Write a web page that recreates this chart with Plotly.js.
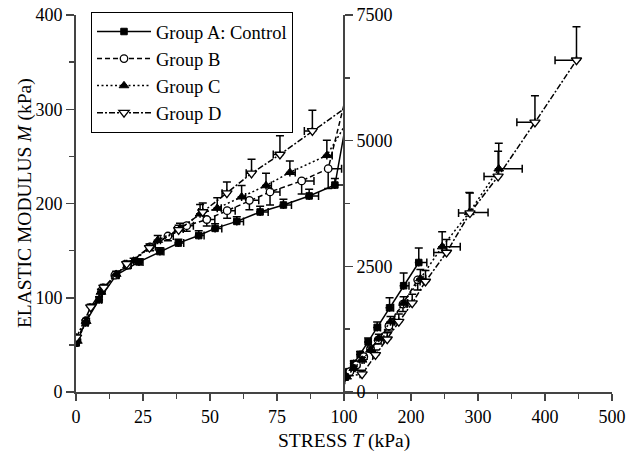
<!DOCTYPE html>
<html>
<head>
<meta charset="utf-8">
<script src="https://cdn.plot.ly/plotly-3.0.1.min.js"></script>
<style>html,body{margin:0;padding:0;background:#fff;}#chart{width:636px;height:455px;}</style>
</head>
<body>
<div id="chart"></div>
<script>
// ---- Data (stress T in kPa, elastic modulus M in kPa) ----
var groupNames = ["Group A: Control", "Group B", "Group C", "Group D"];

var aT    = [0.1,3.5,8.6,15,23.5,31.3,38.2,45.8,51.9,60,68.7,77.4,87,96.6, 102,107,114.6,124,136,149.5,168,189,211.6];
var aM    = [52,73.5,98,124,138,149,158,166,173.6,181,191,198.4,208,219.6, 305,405,565,747,996,1285,1675,2115,2576];
var aErrM = [2,3,3,3,3,4,4,5,5,5,6,6,7,7, 30,40,50,60,80,110,200,250,290];
var aErrT = [0.5,1,1,1,1.5,1.5,2,2,2.5,2.5,3,3,3.5,3.5, 2,2,3,3,4,5,6,8,12];

var bT    = [0.3,3.7,9.6,14.5,19.1,27.6,34.3,41.3,48.8,56.4,64.7,72.4,84.2,94.1, 108.7,118.7,129.6,139.6,151,167,188,210];
var bM    = [55,75.6,107.5,124,134.7,154,165.5,176.5,183,192.4,203.4,212.3,224,237, 405,538,703,860,1036,1315,1750,2231];
var bErrM = [2,3,3,3,4,4,5,6,7,8,10,14,14,21, 30,40,50,60,80,100,150,200];
var bErrT = [0.5,1,1,1,1.5,2,2,2.5,3,3,3.5,3.7,4.6,5, 2,3,3,4,4,5,6,8];

var cT    = [0.5,3.8,9.3,15,21.5,30.5,38.8,46.3,52.7,61.8,70.9,79.8,93.6, 104,114.6,127,139.6,152,169.4,189,214,246.5,287,331];
var cM    = [54,75,106,125,139,161,173,189,195,207,219,233,251, 300,471,637,837,1070,1400,1767,2255,2890,3570,4440];
var cErrM = [2,3,3,3,3,5,6,10,11,12,13,12,16, 30,40,50,60,80,100,130,180,300,400,510];
var cErrT = [0.3,0.5,0.5,0.7,1,1,1.2,1.5,1.5,1.5,2,2,2, 2,2,3,3,4,5,6,8,27,28,35];

var dT    = [0.2,5.5,10.4,18.9,27.4,38.3,47.3,56.3,65.5,76.1,88.2, 127,147,164.5,181.8,201.8,221.6,253,288,330,385,447];
var dM    = [58,90,111,136,153,172,191,211,232,252,277, 355,737,1049,1401,1767,2198,2775,3560,4289,5365,6600];
var dErrM = [2,3,3,3,4,5,9.5,11.7,15,20,22, 80,100,130,150,180,220,260,400,500,530,665];
var dErrT = [0.3,0.5,0.5,0.7,1,1.5,1.5,1.8,2,2.5,3, 3,4,5,6,7,8,19,17,21,27,32];

// ---- Styles ----
var FONT = '"Liberation Serif", serif';
function zeros(n){ var z=[]; for(var i=0;i<n;i++) z.push(0); return z; }

var groups = [
  {T:aT, M:aM, eM:aErrM, eT:aErrT, yUp:true,  xRight:true,  dash:"solid",
   marker:{symbol:"square", size:6.5, color:"#000", line:{color:"#000", width:1}}},
  {T:bT, M:bM, eM:bErrM, eT:bErrT, yUp:false, xRight:true,  dash:"5px,3px",
   marker:{symbol:"circle", size:7.5, color:"#fff", line:{color:"#000", width:1.3}}},
  {T:cT, M:cM, eM:cErrM, eT:cErrT, yUp:true,  xRight:true,  dash:"2px,2.5px",
   marker:{symbol:"triangle-up", size:8.5, color:"#000", line:{color:"#000", width:1}}},
  {T:dT, M:dM, eM:dErrM, eT:dErrT, yUp:true,  xRight:false, dash:"6px,2px,2px,2px",
   marker:{symbol:"triangle-down", size:9, color:"#fff", line:{color:"#000", width:1.3}}}
];

var traces = [];
groups.forEach(function(g, i){
  var n = g.T.length, z = zeros(n);
  var ey = {type:"data", symmetric:false, array: g.yUp ? g.eM : z, arrayminus: g.yUp ? z : g.eM,
            color:"#000", thickness:1.5, width:4};
  var ex = {type:"data", symmetric:false, array: g.xRight ? g.eT : z, arrayminus: g.xRight ? z : g.eT,
            color:"#000", thickness:1.5, width:4};
  ["x","x2"].forEach(function(xa, k){
    traces.push({
      type:"scatter", mode:"lines+markers",
      x:g.T, y:g.M, xaxis:xa, yaxis: k===0 ? "y" : "y2",
      name:groupNames[i], legendgroup:"g"+i, showlegend:k===0,
      line:{color:"#000", width:1.5, dash:g.dash},
      marker:g.marker, error_y:ey, error_x:ex, cliponaxis:true
    });
  });
});

var axColor = "#444";
var tickFont = {family:FONT, size:18, color:"#000"};
var layout = {
  width:636, height:455,
  margin:{l:76, r:24, t:15, b:63},
  paper_bgcolor:"#fff", plot_bgcolor:"#fff",
  font:{family:FONT, size:18, color:"#000"},
  showlegend:true,
  legend:{x:0.028, y:1.008, xanchor:"left", yanchor:"top", bgcolor:"#fff",
          bordercolor:"#000", borderwidth:1, font:{family:FONT, size:18.5, color:"#000"},
          itemwidth:54, tracegroupgap:0},
  xaxis:{domain:[0,0.5], range:[0,100], showgrid:false, zeroline:false,
         showline:true, linecolor:axColor, linewidth:2, anchor:"y",
         ticks:"outside", ticklen:7, tickwidth:1.5, tickcolor:axColor,
         tickmode:"array", tickvals:[0,25,50,75], ticktext:["0","25","50","75"],
         minor:{tickmode:"array", tickvals:[12.5,37.5,62.5,87.5], ticks:"outside", ticklen:5, tickwidth:1.5, tickcolor:axColor, showgrid:false},
         tickfont:tickFont},
  xaxis2:{domain:[0.5,1], range:[100,500], showgrid:false, zeroline:false,
          showline:true, linecolor:axColor, linewidth:2, anchor:"y2",
          ticks:"outside", ticklen:7, tickwidth:1.5, tickcolor:axColor,
          tickmode:"array", tickvals:[100,200,300,400,500],
          minor:{tickmode:"array", tickvals:[150,250,350,450], ticks:"outside", ticklen:5, tickwidth:1.5, tickcolor:axColor, showgrid:false},
          tickfont:tickFont},
  yaxis:{domain:[0,1], range:[0,400], showgrid:false, zeroline:false,
         showline:true, linecolor:axColor, linewidth:2, anchor:"x",
         ticks:"outside", ticklen:8, tickwidth:1.5, tickcolor:axColor,
         tickmode:"array", tickvals:[0,100,200,300,400],
         minor:{tickmode:"array", tickvals:[50,150,250,350], ticks:"outside", ticklen:5, tickwidth:1.5, tickcolor:axColor, showgrid:false},
         tickfont:tickFont},
  yaxis2:{domain:[0,1], range:[0,7500], showgrid:false, zeroline:false,
          showline:true, linecolor:axColor, linewidth:2, anchor:"free", position:0.5, side:"right",
          ticks:"outside", ticklen:8, tickwidth:1.5, tickcolor:axColor,
          tickmode:"array", tickvals:[0,2500,5000,7500],
          minor:{tickmode:"array", tickvals:[1250,3750,6250], ticks:"outside", ticklen:5, tickwidth:1.5, tickcolor:axColor, showgrid:false},
          tickfont:tickFont},
  annotations:[
    {text:"STRESS <i>T</i> (kPa)", xref:"paper", yref:"paper", x:0.5, y:-0.13,
     xanchor:"center", yanchor:"middle", showarrow:false, font:{family:FONT, size:19.5, color:"#000"}},
    {text:"ELASTIC MODULUS <i>M</i> (kPa)", xref:"paper", yref:"paper", x:-0.096, y:0.5,
     xanchor:"center", yanchor:"middle", textangle:-90, showarrow:false, font:{family:FONT, size:19.5, color:"#000"}}
  ]
};

Plotly.newPlot("chart", traces, layout, {displayModeBar:false, staticPlot:true});
</script>
</body>
</html>
